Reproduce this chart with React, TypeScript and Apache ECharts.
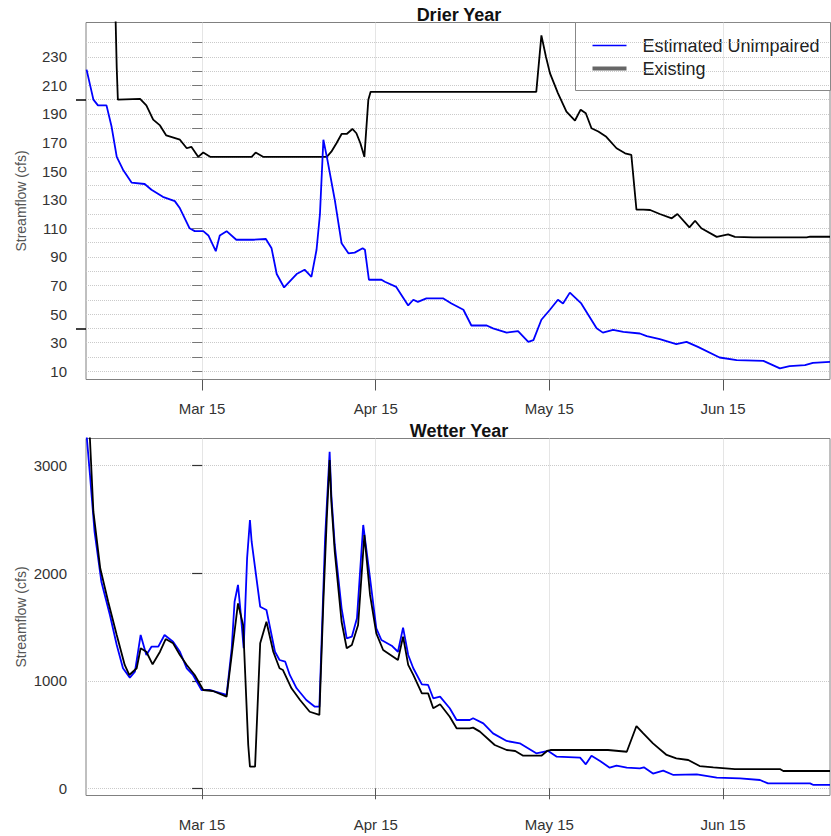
import React, { useEffect, useRef } from "react";
import * as echarts from "echarts";

// x values are days relative to Mar 15 (tick spacing of the source chart: 30.5 days)
const xTickValues = [0, 30.5, 61, 91.5];
const xTickLabels = ["Mar 15", "Apr 15", "May 15", "Jun 15"];

const drierYTicks = [10, 20, 30, 40, 50, 60, 70, 80, 90, 100, 110, 120, 130, 140, 150, 160, 170, 180, 190, 200, 210, 220, 230, 240];
const drierYLabels = [10, 30, 50, 70, 90, 110, 130, 150, 170, 190, 210, 230];
const drierMarkedTicks = [40, 200];
const wetterYTicks = [0, 1000, 2000, 3000];

const seriesNames = ["Estimated Unimpaired", "Existing"];

const drierUnimpaired: [number, number][] = [
  [-20.3, 221], [-19.1, 200], [-18.3, 196], [-16.8, 196], [-15.9, 181], [-15.0, 160], [-13.9, 151], [-12.4, 142],
  [-10.1, 141], [-8.9, 137], [-6.9, 132], [-4.8, 129], [-3.9, 124], [-2.2, 110], [-1.3, 108], [0.2, 108],
  [1.1, 105], [2.4, 94], [3.1, 105], [4.3, 108], [6.0, 102], [9.0, 102], [11.2, 102.5], [12.2, 96],
  [13.1, 78], [14.4, 68.6], [16.6, 78], [18.0, 81], [19.2, 76], [20.1, 95], [20.7, 120], [21.3, 172],
  [22.0, 158], [23.3, 130], [24.5, 99.5], [25.7, 92.5], [26.8, 93], [28.2, 96], [28.6, 95], [29.3, 74],
  [31.5, 74], [32.1, 72.6], [34.1, 69], [36.2, 56], [37.1, 60], [37.9, 58.5], [39.4, 61], [42.3, 61],
  [43.8, 57.4], [45.9, 53], [47.3, 42], [50.0, 42], [51.1, 40], [53.5, 37], [55.5, 38], [57.3, 30.5],
  [58.2, 31.7], [59.6, 46], [61.1, 53], [62.5, 60], [63.4, 57.4], [64.6, 65], [66.6, 57.4], [69.3, 40],
  [70.4, 37], [72.2, 39], [74.0, 37.5], [76.9, 36.4], [78.1, 34.5], [80.4, 32.5], [83.3, 29], [85.1, 30.5],
  [87.1, 27], [90.9, 19.6], [93.9, 17.7], [98.6, 17.2], [101.5, 12], [103.2, 13.5], [105.9, 14.2], [107.3, 15.8],
  [110.3, 16.5],
];

const drierExisting: [number, number][] = [
  [-15.4, 290], [-15.0, 222], [-14.8, 200], [-10.9, 200.6], [-9.8, 196], [-8.6, 186], [-7.4, 182], [-6.3, 175],
  [-3.9, 172], [-2.7, 166], [-1.9, 167], [-0.7, 160], [0.2, 163], [1.4, 160], [8.7, 160], [9.4, 163],
  [10.7, 160], [21.9, 160], [22.7, 163.6], [23.6, 169.5], [24.5, 176], [25.4, 176], [26.4, 179.5], [27.1, 176.5],
  [27.8, 169.5], [28.5, 160], [29.2, 200], [29.6, 205.5], [58.7, 205.5], [59.6, 245], [60.4, 230], [61.1, 218.6],
  [62.5, 204.6], [64.0, 191.7], [65.5, 185.4], [66.5, 193], [67.4, 190.5], [68.4, 180], [69.6, 177.7], [71.0, 174],
  [72.8, 166], [74.3, 162.5], [75.4, 161.3], [76.3, 123], [77.5, 123], [78.7, 122.8], [80.4, 120], [82.5, 117],
  [83.5, 120], [85.6, 110.7], [86.6, 115.3], [87.7, 110], [90.4, 104], [92.4, 105.8], [93.6, 104], [96.8, 103.7],
  [106.2, 103.7], [106.8, 104.1], [110.3, 104.1],
];

const wetterUnimpaired: [number, number][] = [
  [-20.4, 3350], [-19.7, 2914], [-18.9, 2387], [-17.7, 1921], [-16.2, 1612], [-15.0, 1333], [-13.9, 1116], [-12.7, 1029],
  [-11.8, 1085], [-10.8, 1426], [-9.8, 1240], [-8.9, 1317], [-7.7, 1317], [-6.6, 1426], [-5.1, 1363], [-3.9, 1270],
  [-2.7, 1116], [-1.6, 1054], [-0.1, 914], [1.4, 914], [4.3, 868], [5.2, 1302], [5.7, 1735], [6.3, 1891],
  [6.7, 1674], [7.3, 1302], [7.9, 2139], [8.4, 2495], [8.7, 2293], [10.2, 1689], [11.3, 1658], [12.8, 1270],
  [13.6, 1193], [14.6, 1177], [15.4, 1054], [16.6, 930], [18.3, 821], [19.8, 759], [20.6, 759], [21.6, 2325],
  [22.4, 3130], [22.7, 2728], [23.3, 2263], [24.5, 1674], [25.4, 1395], [26.3, 1410], [27.2, 1581], [28.3, 2449],
  [29.5, 1953], [30.6, 1488], [31.5, 1379], [33.3, 1326], [34.4, 1270], [35.3, 1494], [36.2, 1240], [37.1, 1116],
  [38.6, 967], [39.7, 961], [40.6, 837], [41.8, 852], [43.5, 744], [44.7, 635], [47.0, 635], [47.6, 651],
  [49.4, 604], [51.1, 511], [53.5, 440], [55.8, 418], [58.7, 325], [60.8, 347], [62.3, 294], [66.4, 285],
  [67.4, 223], [68.4, 303], [69.9, 254], [71.6, 192], [72.8, 210], [74.6, 192], [76.9, 186], [77.6, 195],
  [79.2, 137], [81.0, 164], [82.8, 124], [86.9, 130], [90.4, 99], [94.5, 93], [98.0, 77], [99.4, 46],
  [106.8, 46], [107.4, 31], [110.3, 31],
];

const wetterExisting: [number, number][] = [
  [-19.8, 3350], [-19.1, 2572], [-17.9, 2046], [-16.5, 1735], [-15.0, 1426], [-13.6, 1147], [-12.8, 1054], [-11.5, 1116],
  [-10.8, 1302], [-9.8, 1270], [-8.7, 1153], [-7.4, 1270], [-6.4, 1388], [-5.1, 1348], [-3.9, 1240], [-2.7, 1147],
  [-1.3, 1054], [0.2, 914], [1.9, 905], [4.3, 852], [5.2, 1240], [6.3, 1720], [7.2, 1519], [8.1, 403],
  [8.4, 201], [9.3, 201], [10.2, 1348], [11.3, 1549], [12.5, 1270], [13.6, 1116], [14.2, 1100], [15.7, 930],
  [17.2, 821], [18.9, 712], [20.6, 682], [21.3, 1735], [21.9, 2511], [22.4, 3053], [22.7, 2665], [23.3, 2200],
  [24.5, 1549], [25.4, 1302], [26.3, 1333], [27.4, 1519], [28.5, 2356], [29.5, 1798], [30.6, 1441], [31.8, 1286],
  [34.4, 1193], [35.3, 1410], [36.2, 1147], [37.1, 1054], [38.6, 883], [39.7, 883], [40.6, 744], [41.8, 781],
  [43.5, 666], [44.7, 558], [47.0, 558], [47.6, 564], [48.8, 527], [51.4, 403], [53.5, 356], [55.0, 347],
  [56.4, 303], [59.6, 303], [60.6, 347], [61.2, 356], [71.3, 356], [74.6, 340], [76.3, 579], [77.5, 511],
  [79.2, 418], [81.6, 310], [83.3, 279], [85.4, 263], [87.4, 207], [89.8, 195], [93.6, 179], [101.5, 179],
  [102.1, 161], [110.3, 161],
];

const FONT = "'Liberation Sans', Arial, sans-serif";
const X_MIN = -20.4;
const X_MAX = 110.3;

export default function App() {
  const ref = useRef<HTMLDivElement>(null);

  useEffect(() => {
    if (!ref.current) return;
    const chart = echarts.init(ref.current, undefined, { renderer: "svg" });

    const gridLine = { show: true, lineStyle: { color: "#cacaca", type: "dotted", width: 1 } };

    const makeX = (gridIndex: number) => ({
      type: "value",
      gridIndex,
      min: X_MIN,
      max: X_MAX,
      axisLine: { show: false },
      axisTick: { show: true, customValues: xTickValues, length: 11, lineStyle: { color: "#555", width: 1 } },
      axisLabel: {
        show: true,
        customValues: xTickValues,
        margin: 21,
        fontSize: 15,
        fontFamily: FONT,
        color: "#333",
        formatter: (v: number) => {
          const i = xTickValues.indexOf(v);
          return i >= 0 ? xTickLabels[i] : "";
        },
      },
      splitLine: gridLine,
    });

    const yName = {
      name: "Streamflow (cfs)",
      nameLocation: "middle",
      nameGap: 58,
      nameMoveOverlap: false,
      nameTextStyle: { fontSize: 14, fontFamily: FONT, color: "#555" },
    };

    const legendText = { fontSize: 18, fontFamily: FONT, fill: "#222" };

    const option: any = {
      animation: false,
      backgroundColor: "#ffffff",
      textStyle: { fontFamily: FONT },
      title: [
        {
          text: "Drier Year",
          left: 454,
          top: 1,
          textAlign: "center",
          textStyle: { fontSize: 18, fontWeight: "bold", fontFamily: FONT, color: "#111" },
        },
        {
          text: "Wetter Year",
          left: 454,
          top: 417,
          textAlign: "center",
          textStyle: { fontSize: 18, fontWeight: "bold", fontFamily: FONT, color: "#111" },
        },
      ],
      graphic: [
        {
          type: "group",
          left: 575,
          top: 22,
          z: 100,
          children: [
            { type: "rect", shape: { x: 0, y: 0, width: 255, height: 68 }, style: { fill: "#fff", stroke: "#888", lineWidth: 1 } },
            { type: "line", shape: { x1: 17, y1: 23, x2: 51, y2: 23 }, style: { stroke: "#0000ff", lineWidth: 1.5 } },
            { type: "line", shape: { x1: 17, y1: 46, x2: 51, y2: 46 }, style: { stroke: "#666", lineWidth: 4 } },
            { type: "text", x: 67, y: 23, style: { ...legendText, text: seriesNames[0], verticalAlign: "middle" } },
            { type: "text", x: 67, y: 46, style: { ...legendText, text: seriesNames[1], verticalAlign: "middle" } },
          ],
        },
      ],
      grid: [
        { left: 86, right: 1, top: 22.5, height: 357, show: true, borderColor: "#808080", borderWidth: 1, backgroundColor: "transparent", outerBoundsMode: "none", containLabel: false },
        { left: 86, right: 1, top: 438.5, height: 357, show: true, borderColor: "#808080", borderWidth: 1, backgroundColor: "transparent", outerBoundsMode: "none", containLabel: false },
      ],
      xAxis: [makeX(0), makeX(1)],
      yAxis: [
        {
          type: "value",
          gridIndex: 0,
          min: 4.2,
          max: 254,
          position: "left",
          ...yName,
          axisLine: { show: false },
          axisTick: { show: true, customValues: drierYTicks, length: 10, lineStyle: { color: "#777", width: 1 } },
          axisLabel: { show: true, customValues: drierYLabels, margin: 19, fontSize: 15, fontFamily: FONT, color: "#333", formatter: (v: number) => String(v) },
          splitLine: gridLine,
        },
        {
          type: "value",
          gridIndex: 0,
          min: 4.2,
          max: 254,
          position: "left",
          axisLine: { show: false },
          axisTick: { show: true, customValues: drierMarkedTicks, length: 10, lineStyle: { color: "#000", width: 1.5 } },
          axisLabel: { show: false },
          splitLine: { show: false },
        },
        {
          type: "value",
          gridIndex: 1,
          min: -67,
          max: 3253,
          position: "left",
          ...yName,
          axisLine: { show: false },
          axisTick: { show: true, customValues: wetterYTicks, length: 10, lineStyle: { color: "#333", width: 1.2 } },
          axisLabel: { show: true, customValues: wetterYTicks, margin: 19, fontSize: 15, fontFamily: FONT, color: "#333", formatter: (v: number) => String(v) },
          splitLine: gridLine,
        },
      ],
      series: [
        {
          name: seriesNames[1],
          type: "line",
          xAxisIndex: 0,
          yAxisIndex: 0,
          data: drierExisting,
          symbol: "none",
          lineStyle: { color: "#000", width: 1.8 },
          itemStyle: { color: "#000" },
          clip: true,
        },
        {
          name: seriesNames[0],
          type: "line",
          xAxisIndex: 0,
          yAxisIndex: 0,
          data: drierUnimpaired,
          symbol: "none",
          lineStyle: { color: "#0000ff", width: 1.8 },
          itemStyle: { color: "#0000ff" },
          clip: true,
        },
        {
          name: seriesNames[0],
          type: "line",
          xAxisIndex: 1,
          yAxisIndex: 2,
          data: wetterUnimpaired,
          symbol: "none",
          lineStyle: { color: "#0000ff", width: 1.8 },
          itemStyle: { color: "#0000ff" },
          clip: true,
        },
        {
          name: seriesNames[1],
          type: "line",
          xAxisIndex: 1,
          yAxisIndex: 2,
          data: wetterExisting,
          symbol: "none",
          lineStyle: { color: "#000", width: 1.8 },
          itemStyle: { color: "#000" },
          clip: true,
        },
      ],
    };

    chart.setOption(option);
    return () => chart.dispose();
  }, []);

  return (
    <div
      ref={ref}
      style={{ position: "fixed", left: 0, top: 0, width: 831, height: 836, background: "#fff" }}
    />
  );
}
